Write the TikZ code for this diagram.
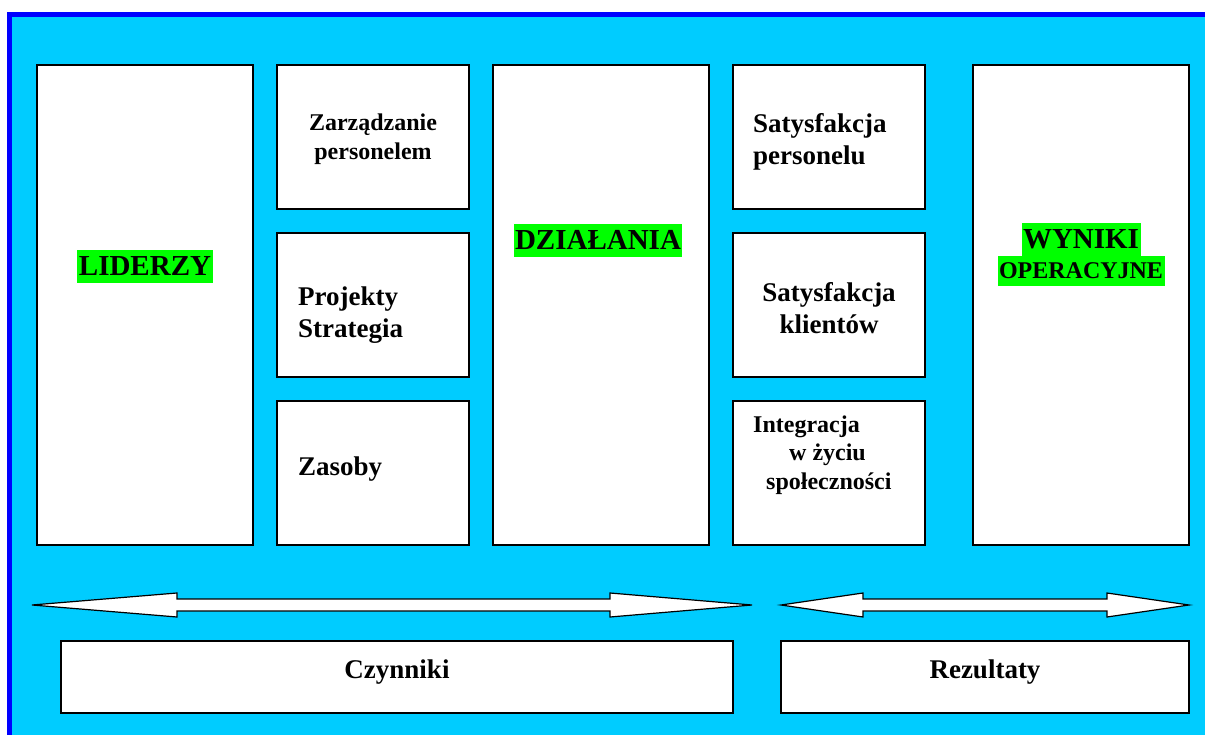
\documentclass[tikz,border=0pt]{standalone}
\usepackage{fontspec}
\setmainfont{Liberation Serif}
\usepackage{tikz}

\definecolor{tlo}{HTML}{00CCFF}
\definecolor{ramka}{HTML}{0000FF}
\definecolor{zielony}{HTML}{00FF00}

\tikzset{
  pole/.style={draw=black, fill=white, line width=1.5pt, inner sep=0pt},
  duze/.style={pole, minimum width=216pt, minimum height=480pt},
  male/.style={pole, minimum width=192pt, minimum height=144pt},
  dolne/.style={pole, minimum height=72pt},
  napis/.style={font=\fontsize{27}{32}\selectfont\bfseries, inner sep=0pt},
  maly/.style={font=\fontsize{24}{28.5}\selectfont\bfseries, inner sep=0pt},
  tytul/.style={font=\fontsize{29}{34}\selectfont\bfseries, fill=zielony,
    text height=25pt, text depth=7pt, inner xsep=1.5pt, inner ysep=0.5pt},
  strzalka/.style={draw=black, fill=white, line width=1.2pt, line join=miter},
}

\begin{document}
\begin{tikzpicture}[x=1pt, y=-1pt]
  \useasboundingbox (0,0) rectangle (1205,735);
  \fill[ramka] (7,12) rectangle (1205,735);
  \fill[tlo] (12,17) rectangle (1205,735);

  \begin{scope}
    % kolumny
    \node[duze] (lid) at (145,305) {};
    \node[male] (zar) at (373,137) {};
    \node[male] (pro) at (373,305) {};
    \node[male] (zas) at (373,473) {};
    \node[duze] (dzi) at (601,305) {};
    \node[male] (sat1) at (829,137) {};
    \node[male] (sat2) at (829,305) {};
    \node[male] (int) at (829,473) {};
    \node[duze] (wyn) at (1081,305) {};

    \node[tytul] (lidt) at (145,266.5) {LIDERZY};
    \node[maly, align=center] (zart) at (373,139) {Zarządzanie\\personelem};
    \node[napis, align=left, anchor=west] (prot) at (298,315) {Projekty\\Strategia};
    \node[napis, anchor=west] (zast) at (298,469) {Zasoby};
    \node[tytul] (dzit) at (598,241) {DZIAŁANIA};
    \node[napis, align=left, anchor=west] (sat1t) at (753,142) {Satysfakcja\\personelu};
    \node[napis, align=center] (sat2t) at (829,308) {Satysfakcja\\klientów};
    \node[maly, align=left, anchor=west] (intt) at (753,455)
      {Integracja\\\hspace*{36pt}w życiu\\\hspace*{13pt}społeczności};
    \node[tytul] (wynt) at (1081,239.5) {WYNIKI};
    \node[tytul, font=\fontsize{24}{28}\selectfont\bfseries,
      text height=22.5pt, text depth=6.5pt] (opet) at (1081,271) {OPERACYJNE};

    % strzalki
    \draw[strzalka] (32,605) -- (177,593) -- (177,599) -- (610,599) -- (610,593)
      -- (752,605) -- (610,617) -- (610,611) -- (177,611) -- (177,617) -- cycle;
    \draw[strzalka] (781,605) -- (863,593) -- (863,599) -- (1107,599) -- (1107,593)
      -- (1189,605) -- (1107,617) -- (1107,611) -- (863,611) -- (863,617) -- cycle;

    % dol
    \node[dolne, minimum width=672pt] (czy) at (397,677) {};
    \node[dolne, minimum width=408pt] (rez) at (985,677) {};
    \node[napis] (czyt) at (397,672) {Czynniki};
    \node[napis] (rezt) at (985,672) {Rezultaty};
  \end{scope}
\end{tikzpicture}
\end{document}
